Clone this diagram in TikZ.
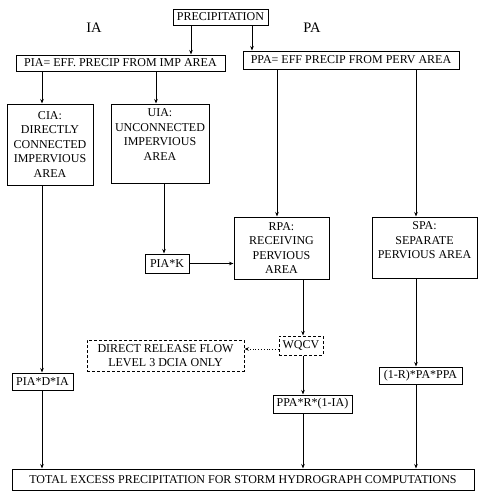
\documentclass[tikz,border=0pt]{standalone}
\usepackage{fontspec}
\setmainfont{Liberation Serif}
\usetikzlibrary{arrows.meta}
\begin{document}
\begin{tikzpicture}[x=1pt,y=-1pt,
  every node/.style={font=\fontsize{12}{14.5}\selectfont, inner sep=0pt},
  box/.style={draw, line width=1pt, rectangle, align=center},
  dbox/.style={draw, line width=1pt, rectangle, align=center, dash pattern=on 3pt off 2pt},
  arr/.style={line width=0.7pt, -{Stealth[length=4.5pt,width=3.5pt]}},
  darr/.style={line width=0.8pt, dotted, -{Stealth[length=4.5pt,width=3.5pt]}},
  lbl/.style={font=\fontsize{14.5}{16}\selectfont}
]
\useasboundingbox (0,0) rectangle (482,493);
% header labels
\node[lbl] (ia) at (94,28) {IA};
\node[lbl] (pa) at (312,28) {PA};
% boxes
\node[box, minimum width=95pt, minimum height=16pt] (prec) at (220.5,17) {PRECIPITATION};
\node[box, minimum width=209pt, minimum height=16pt] (pia) at (120.5,63) {PIA= EFF. PRECIP FROM IMP AREA};
\node[box, minimum width=216pt, minimum height=18pt] (ppa) at (351,60) {PPA= EFF PRECIP FROM PERV AREA};
\node[box, minimum width=86pt, minimum height=81pt] (cia) at (50,144.5) {CIA:\\DIRECTLY\\CONNECTED\\IMPERVIOUS\\AREA};
\node[box] (uia) at (160,143.5) {\begin{minipage}[c][79pt][t]{98pt}\centering\vspace{5pt}UIA:\\UNCONNECTED\\IMPERVIOUS\\AREA\end{minipage}};
\node[box, minimum width=44pt, minimum height=19pt] (piak) at (167,263.5) {PIA*K};
\node[box, minimum width=95pt, minimum height=62pt] (rpa) at (281.5,248) {RPA:\\RECEIVING\\PERVIOUS\\AREA};
\node[box] (spa) at (424.5,247.5) {\begin{minipage}[c][61pt][t]{105pt}\centering\vspace{5pt}SPA:\\SEPARATE\\PERVIOUS AREA\end{minipage}};
\node[dbox, minimum width=44pt, minimum height=19pt] (wqcv) at (301,345.5) {WQCV};
\node[dbox, minimum width=157pt, minimum height=31pt] (direct) at (165.5,355.5) {DIRECT RELEASE FLOW\\LEVEL 3 DCIA ONLY};
\node[box, minimum width=79pt, minimum height=18pt] (pprr) at (312.5,404) {PPA*R*(1-IA)};
\node[box, minimum width=83pt, minimum height=17pt] (rpapp) at (420.5,375.5) {(1-R)*PA*PPA};
\node[box, minimum width=61pt, minimum height=17pt] (piadia) at (42.5,381.5) {PIA*D*IA};
\node[box, minimum width=462pt, minimum height=21pt] (total) at (243,479.5) {TOTAL EXCESS PRECIPITATION FOR STORM HYDROGRAPH COMPUTATIONS};
% column coordinates
\coordinate (xa) at (42,0);
\coordinate (xb) at (156,0);
\coordinate (xb2) at (164,0);
\coordinate (xc) at (277,0);
\coordinate (xd) at (416,0);
\coordinate (xe) at (303,0);
\coordinate (xp1) at (191,0);
\coordinate (xp2) at (252,0);
% connectors
\draw[arr] (prec.south -| xp1) -- (pia.north -| xp1);
\draw[arr] (prec.south -| xp2) -- (ppa.north -| xp2);
\draw[arr] (pia.south -| xa) -- (cia.north -| xa);
\draw[arr] (pia.south -| xb) -- (uia.north -| xb);
\draw[arr] (cia.south -| xa) -- (piadia.north -| xa);
\draw[arr] (piadia.south -| xa) -- (total.north -| xa);
\draw[arr] (uia.south -| xb2) -- (piak.north -| xb2);
\draw[arr] (piak.east) -- (piak.east -| rpa.west);
\draw[arr] (ppa.south -| xc) -- (rpa.north -| xc);
\draw[arr] (ppa.south -| xd) -- (spa.north -| xd);
\draw[arr] (rpa.south -| xe) -- (wqcv.north -| xe);
\draw[arr] (wqcv.south -| xe) -- (pprr.north -| xe);
\draw[arr] (pprr.south -| xe) -- (total.north -| xe);
\draw[arr] (spa.south -| xd) -- (rpapp.north -| xd);
\draw[arr] (rpapp.south -| xd) -- (total.north -| xd);
\draw[darr] ([yshift=-3.5pt]wqcv.west) -- ([yshift=-3.5pt]wqcv.west -| direct.east);
\end{tikzpicture}
\end{document}
